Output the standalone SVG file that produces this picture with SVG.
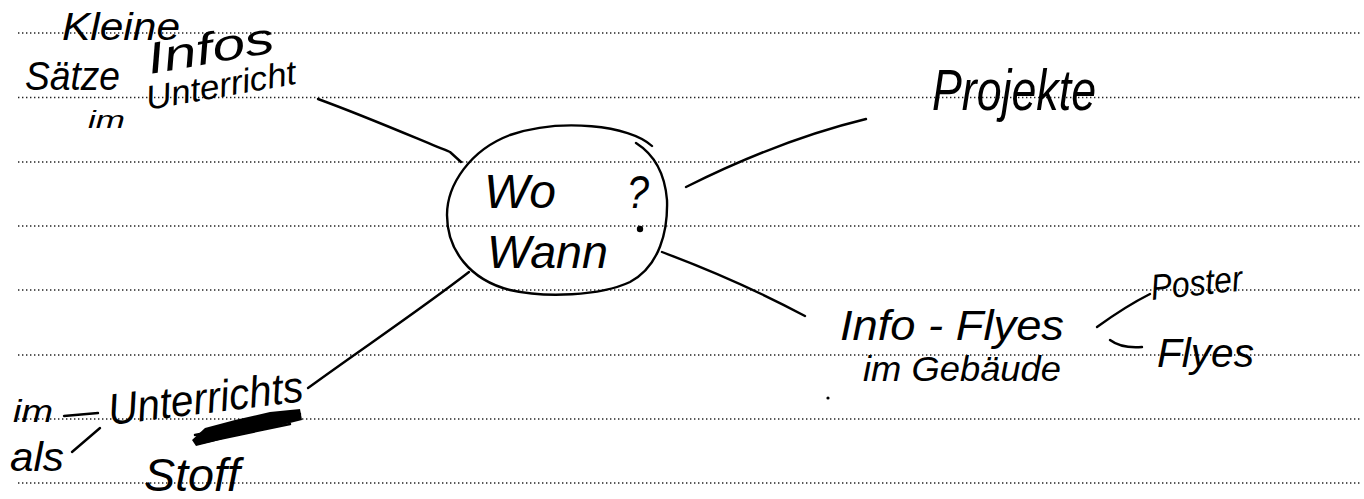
<svg xmlns="http://www.w3.org/2000/svg" width="1364" height="499" viewBox="0 0 1364 499">
<style>
.rule{stroke:#222;stroke-width:1.3;stroke-dasharray:1.4 2.6;fill:none}
.ink{stroke:#000;stroke-width:2.4;fill:none;stroke-linecap:round;stroke-linejoin:round}
.hw{font-family:"Liberation Sans","DejaVu Sans",sans-serif;font-style:italic;fill:#000}
</style>
<rect width="1364" height="499" fill="#fff"/>
<g id="rules">
<line class="rule" x1="18" y1="33" x2="1362" y2="33"/>
<line class="rule" x1="18" y1="97.5" x2="1362" y2="97.5"/>
<line class="rule" x1="18" y1="162" x2="1362" y2="162"/>
<line class="rule" x1="18" y1="226" x2="1362" y2="226"/>
<line class="rule" x1="18" y1="290" x2="1362" y2="290"/>
<line class="rule" x1="18" y1="355" x2="1362" y2="355"/>
<line class="rule" x1="18" y1="419" x2="1362" y2="419"/>
<line class="rule" x1="18" y1="483" x2="1362" y2="483"/>
</g>
<g id="connectors">
<path class="ink" d="M318,99 C370,118 420,140 450,152 L461,162"/>
<path class="ink" d="M686,187 C740,160 800,135 866,119"/>
<path class="ink" d="M662,252 C710,270 760,292 805,316"/>
<path class="ink" d="M469,272 C420,310 360,350 308,388"/>
<path class="ink" d="M1097,327 C1115,314 1132,303 1150,294"/>
<path class="ink" d="M1110,340 C1118,346 1130,348 1142,347"/>
<path class="ink" d="M64,416 L98,413"/>
<path class="ink" d="M72,452 L100,428"/>
</g>
<g id="center">
<path class="ink" d="M652,146 C630,125 560,118 510,135 C470,150 447,185 447,215 C447,250 470,280 510,290 C545,298 600,296 630,282 C660,266 668,230 667,200 C665,175 655,155 636,143"/>
<text class="hw" x="484" y="208" font-size="48" textLength="72" lengthAdjust="spacingAndGlyphs">Wo</text>
<text class="hw" x="627" y="208" font-size="46" textLength="22" lengthAdjust="spacingAndGlyphs">?</text>
<circle cx="640" cy="229" r="3.2" fill="#000"/>
<text class="hw" x="487" y="268" font-size="46" textLength="121" lengthAdjust="spacingAndGlyphs">Wann</text>
</g>
<g id="kleine-infos">
<text class="hw" x="62" y="40" font-size="38" textLength="118" lengthAdjust="spacingAndGlyphs">Kleine</text>
<text class="hw" x="150" y="74" font-size="44" textLength="128" lengthAdjust="spacingAndGlyphs" transform="rotate(-10 150 74)">Infos</text>
<text class="hw" x="25" y="90" font-size="40" textLength="95" lengthAdjust="spacingAndGlyphs">Sätze</text>
<text class="hw" x="88" y="128" font-size="24" textLength="37" lengthAdjust="spacingAndGlyphs">im</text>
<text class="hw" x="148" y="110" font-size="34" textLength="152" lengthAdjust="spacingAndGlyphs" transform="rotate(-10 148 110)">Unterricht</text>
</g>
<g id="projekte">
<text class="hw" x="932" y="110" font-size="58" textLength="164" lengthAdjust="spacingAndGlyphs">Projekte</text>
</g>
<g id="info-flyes">
<text class="hw" x="840" y="340" font-size="42" textLength="224" lengthAdjust="spacingAndGlyphs">Info - Flyes</text>
<text class="hw" x="863" y="381" font-size="35" textLength="198" lengthAdjust="spacingAndGlyphs">im Gebäude</text>
<circle cx="828" cy="398" r="1.6" fill="#000"/>
</g>
<g id="poster">
<text class="hw" x="1152" y="300" font-size="36" textLength="92" lengthAdjust="spacingAndGlyphs" transform="rotate(-6 1152 300)">Poster</text>
</g>
<g id="flyes">
<text class="hw" x="1157" y="367" font-size="40" textLength="97" lengthAdjust="spacingAndGlyphs">Flyes</text>
</g>
<g id="unterrichtsstoff">
<text class="hw" x="13" y="422" font-size="32" textLength="40" lengthAdjust="spacingAndGlyphs">im</text>
<text class="hw" x="10" y="471" font-size="40" textLength="54" lengthAdjust="spacingAndGlyphs">als</text>
<text class="hw" x="110" y="425" font-size="44" textLength="196" lengthAdjust="spacingAndGlyphs" transform="rotate(-7 110 425)">Unterrichts</text>
<path d="M192,440 L205,428 L235,420 L270,412 L300,409 L302,420 L270,428 L240,434 L212,442 L196,446 Z" fill="#000"/>
<path class="ink" d="M195,435 L300,414 M200,443 L290,424"/>
<text class="hw" x="144" y="491" font-size="46" textLength="96" lengthAdjust="spacingAndGlyphs">Stoff</text>
</g>
</svg>
